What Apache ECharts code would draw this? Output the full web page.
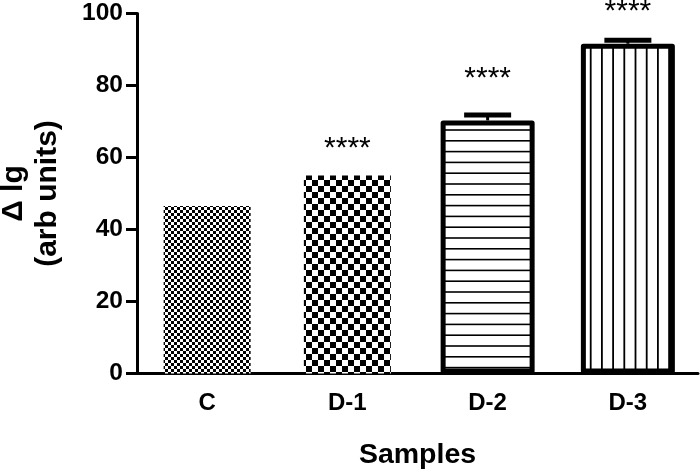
<!DOCTYPE html>
<html><head><meta charset="utf-8">
<script src="https://cdn.jsdelivr.net/npm/echarts@6/dist/echarts.min.js"></script>
<style>html,body{margin:0;padding:0;background:#fff}#c{width:700px;height:471px}</style>
</head><body><div id="c"></div>
<script>
const categories = ['C', 'D-1', 'D-2', 'D-3'];
const means = [46.5, 55, 70.3, 91.6];
const errors = [0, 0, 1.5, 1.0];
const significance = ['', '****', '****', '****'];
const yTicks = [0, 20, 40, 60, 80, 100];

function makePattern(kind) {
  const c = document.createElement('canvas');
  let ctx;
  if (kind === 'fine') {
    c.width = 6; c.height = 6; ctx = c.getContext('2d');
    ctx.fillStyle = '#fff'; ctx.fillRect(0, 0, 6, 6);
    ctx.fillStyle = '#000'; ctx.fillRect(0, 0, 3, 3); ctx.fillRect(3, 3, 3, 3);
  } else if (kind === 'coarse') {
    c.width = 12; c.height = 12; ctx = c.getContext('2d');
    ctx.fillStyle = '#fff'; ctx.fillRect(0, 0, 12, 12);
    ctx.fillStyle = '#000'; ctx.fillRect(0, 0, 6, 6); ctx.fillRect(6, 6, 6, 6);
  } else if (kind === 'hlines') {
    c.width = 4; c.height = 54; ctx = c.getContext('2d');
    ctx.fillStyle = '#fff'; ctx.fillRect(0, 0, 4, 54);
    ctx.fillStyle = '#000';
    for (let k = 0; k < 5; k++) ctx.fillRect(0, 0.4 + k * 10.8 - 0.8, 4, 1.6);
    ctx.fillRect(0, 54 - 0.4, 4, 0.4);
  } else {
    c.width = 56; c.height = 4; ctx = c.getContext('2d');
    ctx.fillStyle = '#fff'; ctx.fillRect(0, 0, 56, 4);
    ctx.fillStyle = '#000';
    for (let k = 0; k < 5; k++) ctx.fillRect(7.4 + k * 11.2, 0, 1.8, 4);
  }
  return { image: c, repeat: 'repeat' };
}
const patterns = [makePattern('fine'), makePattern('coarse'), makePattern('hlines'), makePattern('vlines')];
const labelDist = [0, 12, 27, 17];
const bordered = [false, false, true, true];

function barItem(i) {
  return {
    value: means[i],
    itemStyle: { color: patterns[i] },
    label: {
      show: significance[i] !== '',
      position: 'top',
      distance: labelDist[i],
      formatter: significance[i]
    }
  };
}

const font = 'Liberation Sans, Arial, Helvetica, sans-serif';
const chart = echarts.init(document.getElementById('c'), null, { renderer: 'canvas' });
const xBase = {
  type: 'category',
  data: categories,
  gridIndex: 0
};
chart.setOption({
  animation: false,
  backgroundColor: '#fff',
  grid: { left: 137, right: 2, top: 13.5, bottom: 97.5, containLabel: false, outerBoundsMode: 'none' },
  xAxis: [
    Object.assign({}, xBase, {
      name: 'Samples',
      nameLocation: 'middle',
      nameGap: 67,
      nameTextStyle: { fontSize: 28.5, fontWeight: 'bold', color: '#000', fontFamily: font },
      axisLine: { lineStyle: { color: '#000', width: 3 } },
      axisTick: { alignWithLabel: true, length: 10, lineStyle: { color: '#000', width: 3 } },
      axisLabel: { fontSize: 24, fontWeight: 'bold', color: '#000', fontFamily: font, margin: 18 }
    }),
    Object.assign({}, xBase, { show: false })
  ],
  yAxis: {
    type: 'value',
    min: yTicks[0],
    max: yTicks[yTicks.length - 1],
    interval: yTicks[1] - yTicks[0],
    name: 'Δ lg\n(arb units)',
    nameLocation: 'middle',
    nameRotate: 90,
    nameGap: 72,
    nameTextStyle: { fontSize: 30, fontWeight: 'bold', color: '#000', fontFamily: font, lineHeight: 34 },
    axisLine: { show: true, lineStyle: { color: '#000', width: 3 } },
    axisTick: { show: true, length: 11, lineStyle: { color: '#000', width: 3 } },
    axisLabel: { fontSize: 24.5, fontWeight: 'bold', color: '#000', fontFamily: font, margin: 14 },
    splitLine: { show: false }
  },
  series: [
    {
      type: 'bar',
      xAxisIndex: 0,
      barWidth: 87,
      data: means.map((v, i) => bordered[i] ? null : barItem(i)),
      label: { fontSize: 30, color: '#000', fontFamily: font },
      z: 2
    },
    {
      type: 'bar',
      xAxisIndex: 1,
      barWidth: 94,
      itemStyle: { borderColor: '#000', borderWidth: 5, borderJoin: 'round' },
      data: means.map((v, i) => bordered[i] ? barItem(i) : null),
      label: { fontSize: 30, color: '#000', fontFamily: font },
      z: 2
    },
    {
      type: 'custom',
      xAxisIndex: 1,
      z: 3,
      encode: { x: 0, y: 1 },
      data: means.map((m, i) => [i, m, errors[i]]).filter(d => d[2] > 0),
      renderItem: function (params, api) {
        const x = api.value(0), m = api.value(1), e = api.value(2);
        const top = api.coord([x, m + e]);
        const base = api.coord([x, m]);
        const hw = 23.5;
        return {
          type: 'group',
          children: [
            { type: 'line', shape: { x1: top[0], y1: top[1], x2: base[0], y2: base[1] }, style: { stroke: '#000', lineWidth: 3 } },
            { type: 'line', shape: { x1: top[0] - hw, y1: top[1], x2: top[0] + hw, y2: top[1] }, style: { stroke: '#000', lineWidth: 5 } }
          ]
        };
      }
    }
  ]
});
</script>
</body></html>
